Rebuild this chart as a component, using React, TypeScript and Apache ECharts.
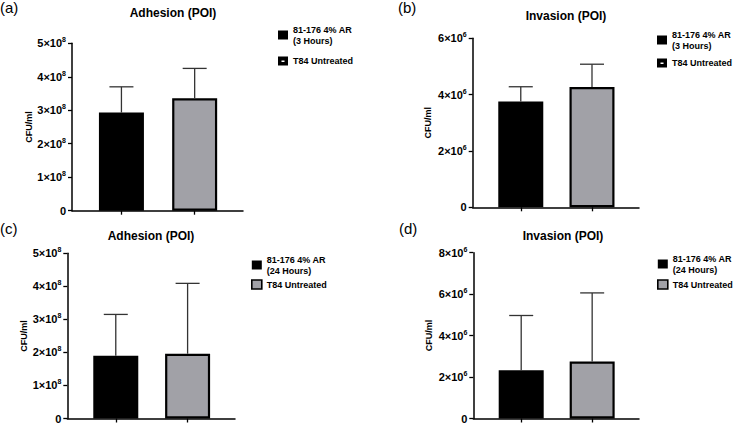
import React, { useEffect, useRef } from "react";
import * as echarts from "echarts";

// Group names shown in the legends
const TREATED_3H = "81-176 4% AR\n(3 Hours)";
const TREATED_24H = "81-176 4% AR\n(24 Hours)";
const UNTREATED = "T84 Untreated";

// CFU/ml means and upper SD, [treated, untreated]
const adhesion3hMean = [2.93e8, 3.36e8];
const adhesion3hErr = [0.77e8, 0.89e8];
const invasion3hMean = [3.76e6, 4.27e6];
const invasion3hErr = [0.52e6, 0.81e6];
const adhesion24hMean = [1.9e8, 1.96e8];
const adhesion24hErr = [1.25e8, 2.13e8];
const invasion24hMean = [2.33e6, 2.75e6];
const invasion24hErr = [2.64e6, 3.31e6];

// Axis ranges: [max, interval, exponent]
const adhesionAxis = [5e8, 1e8, 8];
const invasion3hAxis = [6e6, 2e6, 6];
const invasion24hAxis = [8e6, 2e6, 6];

const FONT = "'Liberation Sans', Arial, sans-serif";
const GRAY = "#a1a1a7";
// Filled square with a small slot, used for the untreated key in the 3 h panels
const HOLLOW_KEY = "path://M0,0H10V9H0Z M3.5,4V5.5H6.5V4Z";

type Panel = {
  label: string;
  title: string;
  treatedName: string;
  mean: number[];
  err: number[];
  axis: number[];
  left: number;
  right: number;
  top: number;
  bottom: number;
  nameGap: number;
  titleX: number;
  titleY: number;
  labelX: number;
  labelY: number;
  legendX: number;
  legendY: number;
  legendGap: number;
  greyKey: boolean;
};

const panels: Panel[] = [
  {
    label: "(a)", title: "Adhesion (POI)", treatedName: TREATED_3H,
    mean: adhesion3hMean, err: adhesion3hErr, axis: adhesionAxis,
    left: 72, right: 243, top: 43.3, bottom: 210.7, nameGap: 35,
    titleX: 173, titleY: 7, labelX: 0, labelY: 0,
    legendX: 278, legendY: 24, legendGap: 9.5, greyKey: false,
  },
  {
    label: "(b)", title: "Invasion (POI)", treatedName: TREATED_3H,
    mean: invasion3hMean, err: invasion3hErr, axis: invasion3hAxis,
    left: 472.7, right: 639, top: 38.3, bottom: 207.3, nameGap: 40,
    titleX: 566, titleY: 9.5, labelX: 398, labelY: 0,
    legendX: 657, legendY: 29, legendGap: 6.5, greyKey: false,
  },
  {
    label: "(c)", title: "Adhesion (POI)", treatedName: TREATED_24H,
    mean: adhesion24hMean, err: adhesion24hErr, axis: adhesionAxis,
    left: 67.3, right: 235, top: 253.3, bottom: 420, nameGap: 38,
    titleX: 151, titleY: 230, labelX: 0, labelY: 221,
    legendX: 251, legendY: 254, legendGap: 3, greyKey: true,
  },
  {
    label: "(d)", title: "Invasion (POI)", treatedName: TREATED_24H,
    mean: invasion24hMean, err: invasion24hErr, axis: invasion24hAxis,
    left: 473.3, right: 639, top: 252.7, bottom: 419.3, nameGap: 40,
    titleX: 563, titleY: 230, labelX: 399, labelY: 221,
    legendX: 657, legendY: 253, legendGap: 4, greyKey: true,
  },
];

const X_MIN = -0.675;
const X_MAX = 1.66;

function tickLabel(exp: number) {
  return (v: number) => {
    if (v === 0) return "{m|0}";
    const m = Math.round(v / Math.pow(10, exp));
    return `{m|${m}×10}{e|${exp}}`;
  };
}

function errorBarItem(params: any, api: any) {
  const x = api.value(0);
  const mean = api.value(1);
  const err = api.value(2);
  const base = api.coord([x, mean]);
  const tip = api.coord([x, mean + err]);
  const half = 12;
  const style = { stroke: "#333", lineWidth: 1.3 };
  return {
    type: "group",
    children: [
      { type: "line", shape: { x1: base[0], y1: base[1], x2: tip[0], y2: tip[1] }, style },
      { type: "line", shape: { x1: tip[0] - half, y1: tip[1], x2: tip[0] + half, y2: tip[1] }, style },
    ],
  };
}

export default function App() {
  const ref = useRef<HTMLDivElement>(null);

  useEffect(() => {
    document.body.style.margin = "0";
    if (!ref.current) return;
    const chart = echarts.init(ref.current, null, { renderer: "svg" });

    const grid: any[] = [];
    const xAxis: any[] = [];
    const yAxis: any[] = [];
    const series: any[] = [];
    const legend: any[] = [];
    const title: any[] = [];

    panels.forEach((p, i) => {
      const [max, interval, exp] = p.axis;
      grid.push({
        left: p.left,
        top: p.top,
        width: p.right - p.left,
        height: p.bottom - p.top,
      });
      xAxis.push({
        type: "value",
        gridIndex: i,
        min: X_MIN,
        max: X_MAX,
        axisLine: { show: true, onZero: false, lineStyle: { color: "#000", width: 1.5 } },
        axisTick: { show: true, customValues: [0, 1], length: 4, lineStyle: { color: "#000", width: 1.3 } },
        axisLabel: { show: false },
        splitLine: { show: false },
      });
      yAxis.push({
        type: "value",
        gridIndex: i,
        min: 0,
        max,
        interval,
        name: "CFU/ml",
        nameLocation: "middle",
        nameGap: p.nameGap,
        nameTextStyle: { fontFamily: FONT, fontWeight: "bold", fontSize: 9, color: "#000" },
        axisLine: { show: true, onZero: false, lineStyle: { color: "#000", width: 1.5 } },
        axisTick: { show: true, length: 4, lineStyle: { color: "#000", width: 1.3 } },
        splitLine: { show: false },
        axisLabel: {
          margin: 6,
          formatter: tickLabel(exp),
          rich: {
            m: { fontFamily: FONT, fontWeight: "bold", fontSize: 11, color: "#000", lineHeight: 14 },
            e: { fontFamily: FONT, fontWeight: "bold", fontSize: 7, color: "#000", lineHeight: 8, verticalAlign: "top" },
          },
        },
      });

      series.push({
        type: "bar",
        name: p.treatedName,
        xAxisIndex: i,
        yAxisIndex: i,
        barWidth: 45,
        barGap: "-100%",
        data: [[0, p.mean[0]]],
        itemStyle: { color: "#000", borderColor: "#000", borderWidth: 2 },
      });
      series.push({
        type: "bar",
        name: UNTREATED,
        xAxisIndex: i,
        yAxisIndex: i,
        barWidth: 45,
        barGap: "-100%",
        data: [[1, p.mean[1]]],
        itemStyle: { color: GRAY, borderColor: "#000", borderWidth: 2.2 },
      });
      series.push({
        type: "custom",
        xAxisIndex: i,
        yAxisIndex: i,
        z: 5,
        renderItem: errorBarItem,
        encode: { x: 0, y: 1 },
        data: p.mean.map((m, k) => [k, m, p.err[k]]),
      });

      legend.push({
        orient: "vertical",
        left: p.legendX,
        top: p.legendY,
        itemWidth: 10,
        itemHeight: 9,
        itemGap: p.legendGap,
        padding: 0,
        icon: "rect",
        selectedMode: false,
        textStyle: { fontFamily: FONT, fontWeight: "bold", fontSize: 9, color: "#000", lineHeight: 11 },
        data: [
          { name: p.treatedName, itemStyle: { color: "#000", borderWidth: 0 } },
          p.greyKey
            ? { name: UNTREATED, itemStyle: { color: GRAY, borderColor: "#000", borderWidth: 1.6 } }
            : { name: UNTREATED, icon: HOLLOW_KEY, itemStyle: { color: "#000", borderWidth: 0 } },
        ],
      });

      title.push({
        text: p.title,
        left: p.titleX,
        top: p.titleY,
        textAlign: "center",
        padding: 0,
        textStyle: { fontFamily: FONT, fontWeight: "bold", fontSize: 12, color: "#000" },
      });
      title.push({
        text: p.label,
        left: p.labelX,
        top: p.labelY,
        padding: 0,
        textStyle: { fontFamily: FONT, fontWeight: "normal", fontSize: 15, color: "#000" },
      });
    });

    chart.setOption({
      animation: false,
      backgroundColor: "#fff",
      title,
      legend,
      grid,
      xAxis,
      yAxis,
      series,
    });

    return () => chart.dispose();
  }, []);

  return (
    <div
      ref={ref}
      style={{ position: "absolute", left: 0, top: 0, width: 735, height: 424 }}
    />
  );
}
